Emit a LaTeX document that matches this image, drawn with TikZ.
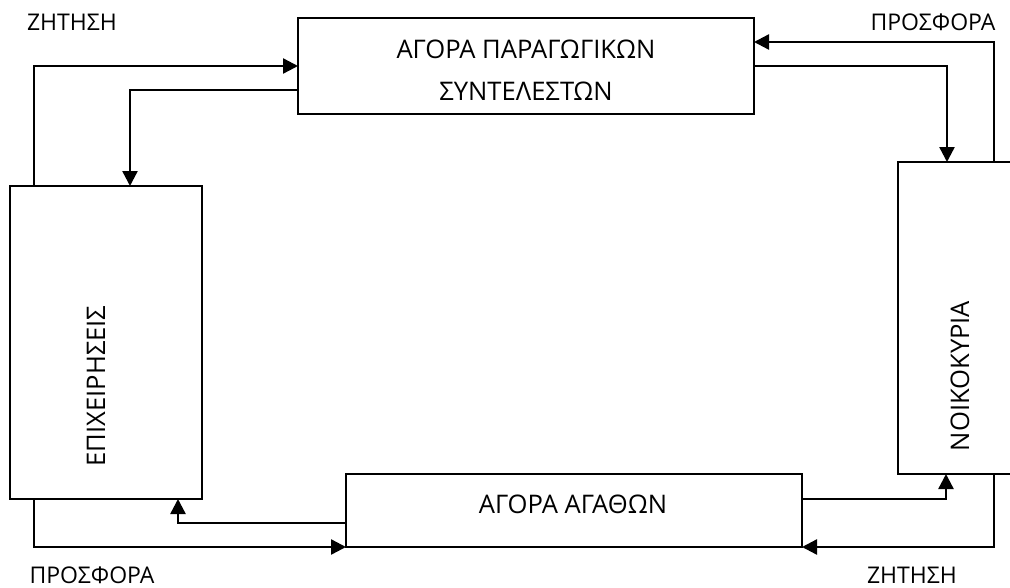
\documentclass[tikz,border=0pt]{standalone}
\usepackage{fontspec}
\setmainfont{Open Sans}
\usetikzlibrary{arrows.meta}
\tikzset{
  box/.style={draw, line width=2.4pt, minimum width=#1, inner sep=0pt, outer sep=0pt},
  txt/.style={inner sep=0pt, font=\fontsize{23}{41}\selectfont},
  boxtxt/.style={inner sep=0pt, font=\fontsize{25.6}{41.5}\selectfont},
  arr/.style={line width=2.4pt, -{Triangle[length=15pt,width=15pt]}},
}
\begin{document}
\begin{tikzpicture}[x=1pt,y=-1pt]
  \clip (0,0) rectangle (1010,587);
  \fill[white] (0,0) rectangle (1010,587);

  % markets and sectors
  \node[box=456pt, minimum height=96pt]  (fac)   at (526,66)    {};
  \node[box=192pt, minimum height=313pt] (firm)  at (106,342.5) {};
  \node[box=116pt, minimum height=312pt] (hh)    at (956,318)   {};
  \node[box=456pt, minimum height=73pt]  (goods) at (574,510.5) {};

  \node[boxtxt, align=center] (factxt) at (526,70) {ΑΓΟΡΑ ΠΑΡΑΓΩΓΙΚΩΝ\\ΣΥΝΤΕΛΕΣΤΩΝ};
  \node[boxtxt, rotate=90] (firmtxt) at (96,386) {ΕΠΙΧΕΙΡΗΣΕΙΣ};
  \node[boxtxt, rotate=90] (hhtxt) at (960,376) {ΝΟΙΚΟΚΥΡΙΑ};
  \node[boxtxt] (goodstxt) at (573,504) {ΑΓΟΡΑ ΑΓΑΘΩΝ};

  % flow labels
  \node[txt] (dem1) at (72,22)  {ΖΗΤΗΣΗ};
  \node[txt] (sup1) at (933,22) {ΠΡΟΣΦΟΡΑ};
  \node[txt] (sup2) at (92,575) {ΠΡΟΣΦΟΡΑ};
  \node[txt] (dem2) at (912,575) {ΖΗΤΗΣΗ};

  % circular flows
  \draw[arr] ([xshift=24pt]firm.north west) |- (fac.west);
  \draw[arr] ([yshift=-24pt]fac.west) -| ([xshift=120pt]firm.north west);
  \draw[arr] ([xshift=-20pt]hh.north east) |- ([yshift=24pt]fac.east);
  \draw[arr] (fac.east) -| ([xshift=49pt]hh.north west);
  \draw[arr] ([xshift=24pt]firm.south west) |- (goods.south west);
  \draw[arr] ([yshift=-12.5pt]goods.west) -| ([xshift=168pt]firm.south west);
  \draw[arr] ([yshift=11.5pt]goods.east) -| ([xshift=48pt]hh.south west);
  \draw[arr] ([xshift=-20pt]hh.south east) |- (goods.south east);
\end{tikzpicture}
\end{document}
